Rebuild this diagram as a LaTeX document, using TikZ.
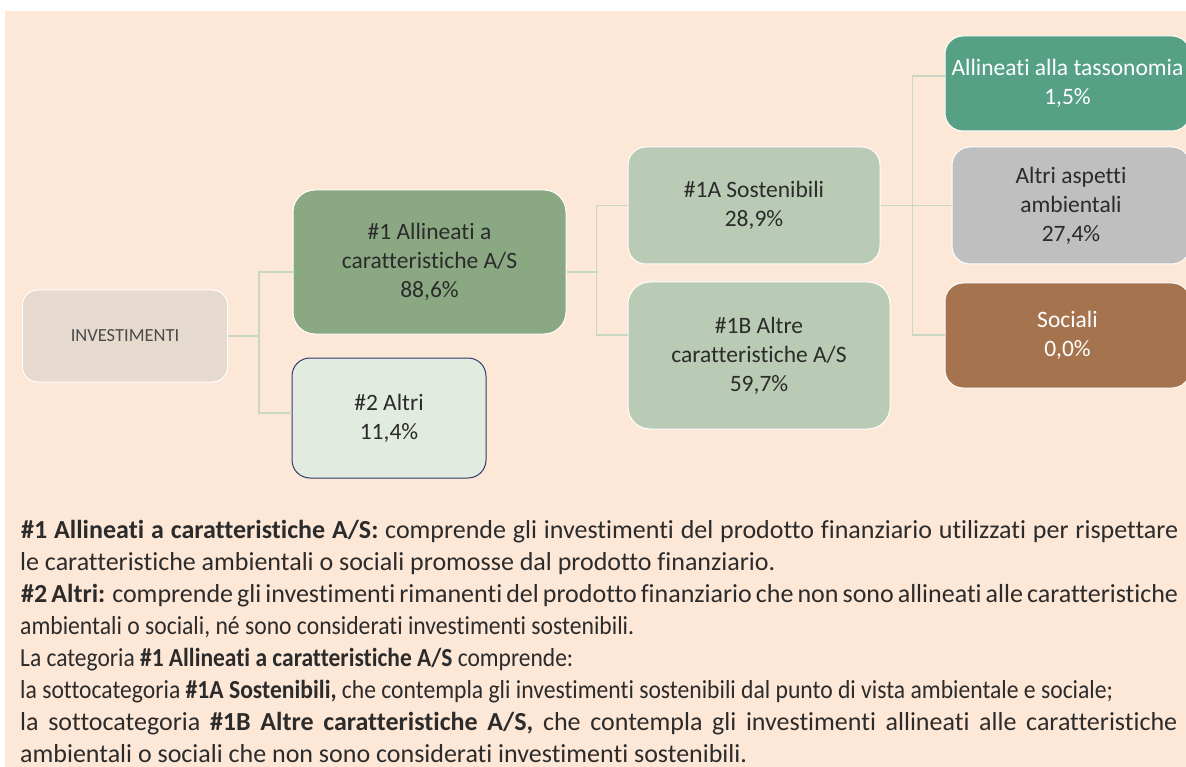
\documentclass[tikz,border=0pt]{standalone}
\usepackage{fontspec}
\setmainfont{Carlito}[Ligatures=CommonOff]
\usetikzlibrary{positioning}

\definecolor{sfondo}{HTML}{FDE7D7}
\definecolor{linea}{HTML}{C8D8C2}
\definecolor{testo}{HTML}{2B2B2B}
\definecolor{colinv}{HTML}{E6D9CD}
\definecolor{coluno}{HTML}{8AA882}
\definecolor{coldue}{HTML}{E2EBE0}
\definecolor{bordodue}{HTML}{2F3D6B}
\definecolor{colsost}{HTML}{B9CBB4}
\definecolor{coltass}{HTML}{56A185}
\definecolor{colaltri}{HTML}{BFBFBF}
\definecolor{colsoc}{HTML}{A5744F}

\begin{document}
\begin{tikzpicture}[x=1pt,y=-1pt,
	scatola/.style={rounded corners=18pt, draw=white, line width=1pt, inner sep=0pt, align=center, text=testo, font=\fontsize{23.5}{29}\selectfont},
	conn/.style={draw=linea, line width=1.3pt},
	riga/.style={anchor=base west, inner sep=0pt, text=testo, font=\fontsize{26}{32}\selectfont}]
	\useasboundingbox (0,0) rectangle (1186,767);
	\fill[white] (0,0) rectangle (1186,767);
	\fill[sfondo] (5,11) rectangle (1186,767); %sfondo
	\node[scatola, fill=colinv, rounded corners=15pt, minimum width=205pt, minimum height=92pt, text=testo!85, font=\fontsize{18.5}{22}\selectfont] (inv) at (125,336) {INVESTIMENTI}; %radice
	\node[scatola, fill=coluno, minimum width=273pt, minimum height=144pt, rounded corners=22pt] (uno) at (429.5,262) {\#1 Allineati a\\caratteristiche A/S\\88,6\%};
	\node[scatola, fill=coldue, draw=bordodue, minimum width=194pt, minimum height=120pt] (due) at (389,418) {\#2 Altri\\11,4\%};
	\node[scatola, fill=colsost, minimum width=252pt, minimum height=117pt] (unoA) at (754,205.5) {\#1A Sostenibili\\28,9\%};
	\node[scatola, fill=colsost, minimum width=262pt, minimum height=147pt, rounded corners=22pt] (unoB) at (759,355.5) {\#1B Altre\\caratteristiche A/S\\59,7\%};
	\node[scatola, fill=coltass, text=white, minimum width=245pt, minimum height=95pt] (tass) at (1067.5,83.5) {Allineati alla tassonomia\\1,5\%};
	\node[scatola, fill=colaltri, minimum width=238pt, minimum height=117pt] (altri) at (1071,205.5) {Altri aspetti\\ambientali\\27,4\%};
	\node[scatola, fill=colsoc, text=white, minimum width=245pt, minimum height=105pt] (soc) at (1067.5,335.5) {Sociali\\0,0\%};
	%collegamenti
	\draw[conn] (inv.east) -- ++(32,0);
	\draw[conn] ([yshift=-10pt]uno.west) -- ++(-33.5,0) |- ([yshift=5pt]due.west);
	\draw[conn] ([yshift=-10pt]uno.east) -- ++(31,0);
	\draw[conn] (unoA.west) -- ++(-31,0) |- ([yshift=20.5pt]unoB.west);
	\draw[conn] (unoA.east) -- (altri.west);
	\draw[conn] ([yshift=7.5pt]tass.west) -- ++(-32,0) |- ([yshift=0.5pt]soc.west);
	%testo sotto
	\node[riga] (r1) at (21,538) {\makebox[1157pt][s]{\textbf{\#1 Allineati a caratteristiche A/S:} comprende gli investimenti del prodotto finanziario utilizzati per rispettare}};
	\node[riga] (r2) at (20,570) {le caratteristiche ambientali o sociali promosse dal prodotto finanziario.};
	\node[riga] (r3) at (21,602) {\makebox[1157pt][s]{\textbf{\#2 Altri:} comprende gli investimenti rimanenti del prodotto finanziario che non sono allineati alle caratteristiche}};
	\node[riga] (r4) at (20,634) {\resizebox{614pt}{\height}{ambientali o sociali, né sono considerati investimenti sostenibili.}};
	\node[riga] (r5) at (20,666) {\resizebox{553pt}{\height}{La categoria \textbf{\#1 Allineati a caratteristiche A/S} comprende:}};
	\node[riga] (r6) at (20,698) {\resizebox{1093pt}{\height}{la sottocategoria \textbf{\#1A Sostenibili,} che contempla gli investimenti sostenibili dal punto di vista ambientale e sociale;}};
	\node[riga] (r7) at (20,730) {\makebox[1157pt][s]{la sottocategoria \textbf{\#1B Altre caratteristiche A/S,} che contempla gli investimenti allineati alle caratteristiche}};
	\node[riga] (r8) at (20,762) {ambientali o sociali che non sono considerati investimenti sostenibili.};
\end{tikzpicture}
\end{document}
